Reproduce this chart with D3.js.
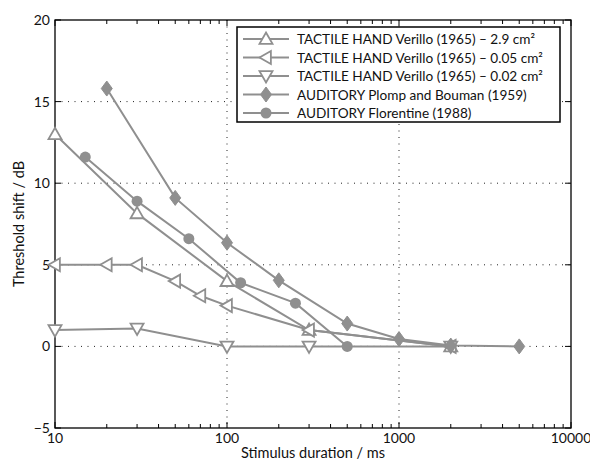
<!DOCTYPE html>
<html><head><meta charset="utf-8">
<script src="https://cdn.jsdelivr.net/npm/d3@7"></script>
<style>
html,body{margin:0;padding:0;background:#fff;}
text{font-family:Lato,"Open Sans",sans-serif;fill:#111;}
</style></head>
<body><svg id="chart" width="590" height="464"></svg>
<script>
// ---- data ----
const tactile29_x = [10, 30, 100, 300, 2000];
const tactile29_y = [13.0, 8.15, 4.0, 1.0, 0];
const tactile005_x = [10, 20, 30, 50, 70, 100, 300, 2000];
const tactile005_y = [5.0, 5.0, 5.0, 4.0, 3.1, 2.5, 1.0, 0];
const tactile002_x = [10, 30, 100, 300, 2000];
const tactile002_y = [1.0, 1.1, 0, 0, 0];
const plomp_x = [20, 50, 100, 200, 500, 1000, 2000, 5000];
const plomp_y = [15.8, 9.1, 6.35, 4.05, 1.4, 0.45, 0.05, 0];
const florentine_x = [15, 30, 60, 120, 250, 500];
const florentine_y = [11.6, 8.9, 6.6, 3.9, 2.65, 0];
const seriesNames = [
  "TACTILE HAND Verillo (1965) \u2013 2.9 cm\u00B2",
  "TACTILE HAND Verillo (1965) \u2013 0.05 cm\u00B2",
  "TACTILE HAND Verillo (1965) \u2013 0.02 cm\u00B2",
  "AUDITORY Plomp and Bouman (1959)",
  "AUDITORY Florentine (1988)"
];
const markers = ["triUp", "triLeft", "triDown", "diamond", "circle"];
const xTicks = [10, 100, 1000, 10000];
const xTickLabels = ["10", "100", "1000", "10000"];
const yTicks = [-5, 0, 5, 10, 15, 20];
const yTickLabels = ["\u22125", "0", "5", "10", "15", "20"];
const xTitle = "Stimulus duration / ms";
const yTitle = "Threshold shift / dB";

const seriesX = [tactile29_x, tactile005_x, tactile002_x, plomp_x, florentine_x];
const seriesY = [tactile29_y, tactile005_y, tactile002_y, plomp_y, florentine_y];

// ---- layout ----
const L = 55, R = 571, T = 20, B = 428;
const gray = "#8f8f8f";
const svg = d3.select("#chart");
const x = d3.scaleLog().domain([10, 10000]).range([L, R]);
const y = d3.scaleLinear().domain([-5, 20]).range([B, T]);

// grid
const g = svg.append("g");
g.selectAll(".gx").data(xTicks.slice(1, -1)).enter().append("line")
  .attr("x1", d => x(d)).attr("x2", d => x(d)).attr("y1", T).attr("y2", B)
  .attr("stroke", "#222").attr("stroke-width", 1).attr("stroke-dasharray", "1,5.5");
g.selectAll(".gy").data(yTicks.slice(1, -1)).enter().append("line")
  .attr("y1", d => y(d)).attr("y2", d => y(d)).attr("x1", L).attr("x2", R)
  .attr("stroke", "#222").attr("stroke-width", 1).attr("stroke-dasharray", "1,5.5");

// minor ticks on x
const minor = [];
for (let dec = 10; dec < 10000; dec *= 10) for (let k = 1; k < 10; k++) minor.push(dec * k);
minor.push(10000);
const axisG = svg.append("g");
minor.forEach(v => {
  const major = xTicks.includes(v);
  const len = major ? 6 : 4;
  axisG.append("line").attr("x1", x(v)).attr("x2", x(v)).attr("y1", B).attr("y2", B - len).attr("stroke", "#000");
  axisG.append("line").attr("x1", x(v)).attr("x2", x(v)).attr("y1", T).attr("y2", T + len).attr("stroke", "#000");
});
yTicks.forEach(v => {
  axisG.append("line").attr("x1", L).attr("x2", L + 6).attr("y1", y(v)).attr("y2", y(v)).attr("stroke", "#000");
  axisG.append("line").attr("x1", R).attr("x2", R - 6).attr("y1", y(v)).attr("y2", y(v)).attr("stroke", "#000");
});
axisG.append("rect").attr("x", L).attr("y", T).attr("width", R - L).attr("height", B - T)
  .attr("fill", "none").attr("stroke", "#000").attr("stroke-width", 1.3);

// tick labels
xTicks.forEach((v, i) => {
  svg.append("text").attr("x", x(v)).attr("y", B + 15).attr("text-anchor", "middle")
    .attr("font-size", 14).text(xTickLabels[i]);
});
yTicks.forEach((v, i) => {
  svg.append("text").attr("x", L - 5).attr("y", y(v) + 5).attr("text-anchor", "end")
    .attr("font-size", 14).text(yTickLabels[i]);
});
svg.append("text").attr("x", (L + R) / 2).attr("y", 458).attr("text-anchor", "middle")
  .attr("font-size", 14.5).text(xTitle);
svg.append("text").attr("transform", `translate(24,${(T + B) / 2}) rotate(-90)`)
  .attr("text-anchor", "middle").attr("font-size", 14.5).text(yTitle);

// markers
function drawMarker(sel, type, cx, cy) {
  const s = 6.5;
  if (type === "triUp") {
    sel.append("path").attr("d", `M${cx},${cy - s}L${cx + s},${cy + s * 0.75}L${cx - s},${cy + s * 0.75}Z`)
      .attr("fill", "#fff").attr("stroke", gray).attr("stroke-width", 1.8);
  } else if (type === "triDown") {
    sel.append("path").attr("d", `M${cx},${cy + s}L${cx + s},${cy - s * 0.75}L${cx - s},${cy - s * 0.75}Z`)
      .attr("fill", "#fff").attr("stroke", gray).attr("stroke-width", 1.8);
  } else if (type === "triLeft") {
    sel.append("path").attr("d", `M${cx - s},${cy}L${cx + s * 0.75},${cy - s}L${cx + s * 0.75},${cy + s}Z`)
      .attr("fill", "#fff").attr("stroke", gray).attr("stroke-width", 1.8);
  } else if (type === "diamond") {
    sel.append("path").attr("d", `M${cx},${cy - 7.5}L${cx + 5.5},${cy}L${cx},${cy + 7.5}L${cx - 5.5},${cy}Z`)
      .attr("fill", gray).attr("stroke", gray).attr("stroke-width", 1);
  } else {
    sel.append("circle").attr("cx", cx).attr("cy", cy).attr("r", 5.5).attr("fill", gray);
  }
}

const line = d3.line().x(d => x(d[0])).y(d => y(d[1]));
const plot = svg.append("g");
seriesX.forEach((xs, i) => {
  const pts = xs.map((v, j) => [v, seriesY[i][j]]);
  plot.append("path").attr("d", line(pts)).attr("fill", "none")
    .attr("stroke", gray).attr("stroke-width", 2);
  const mg = plot.append("g");
  pts.forEach(p => drawMarker(mg, markers[i], x(p[0]), y(p[1])));
});

// legend
const lg = svg.append("g");
const lx = 237, ly = 27, lw = 323, lh = 95;
lg.append("rect").attr("x", lx).attr("y", ly).attr("width", lw).attr("height", lh)
  .attr("fill", "#fff").attr("stroke", "#000").attr("stroke-width", 1.5);
seriesNames.forEach((name, i) => {
  const yy = ly + 12 + i * 18.5;
  lg.append("line").attr("x1", lx + 6).attr("x2", lx + 52).attr("y1", yy).attr("y2", yy)
    .attr("stroke", gray).attr("stroke-width", 2);
  drawMarker(lg, markers[i], lx + 29, yy);
  lg.append("text").attr("x", lx + 60).attr("y", yy + 5).attr("font-size", 13.6).text(name);
});
</script></body></html>
